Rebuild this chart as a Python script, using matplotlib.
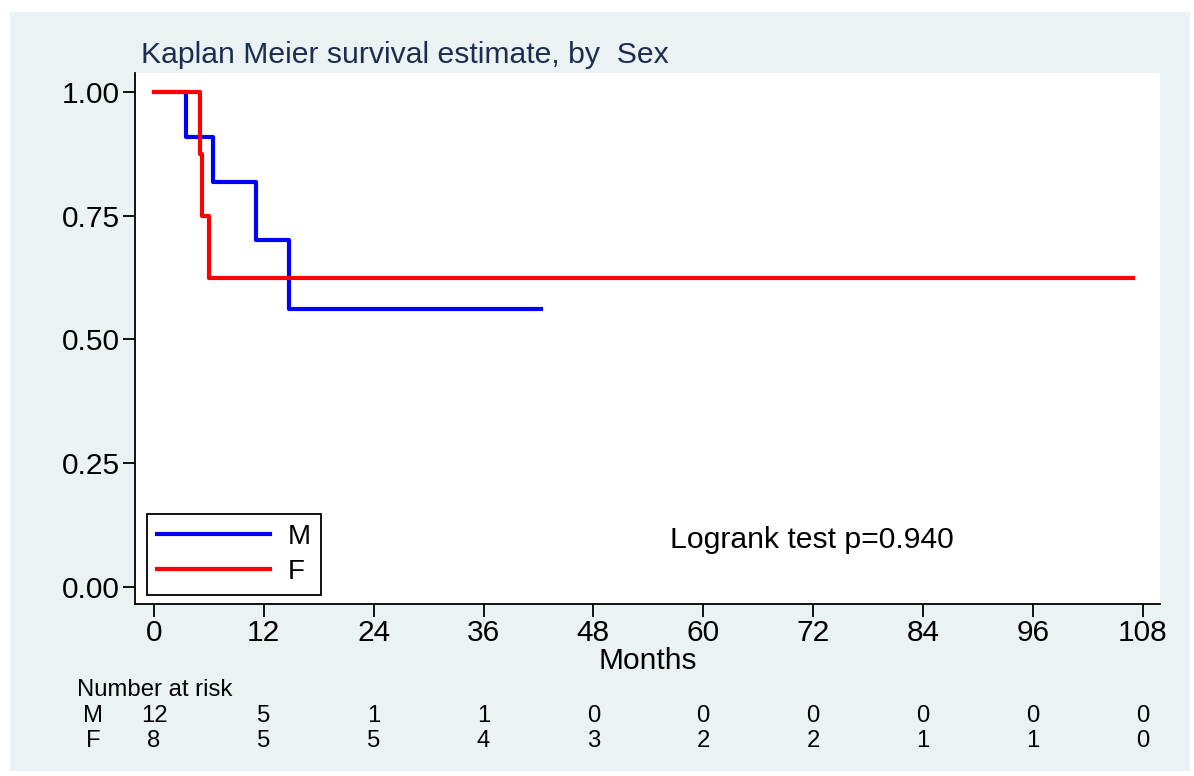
import matplotlib.pyplot as plt
from matplotlib.patches import Rectangle
from matplotlib.lines import Line2D

plt.rcParams['font.family'] = ['Liberation Sans', 'DejaVu Sans']

# Kaplan-Meier step data (months, survival)
m_times = [0, 3.5, 6.4, 11.1, 14.8, 42.3]
m_surv = [1.0, 0.909, 0.818, 0.701, 0.561, 0.561]
f_times = [0, 5.0, 5.3, 6.0, 107.0]
f_surv = [1.0, 0.875, 0.75, 0.625, 0.625]

x_ticks = [0, 12, 24, 36, 48, 60, 72, 84, 96, 108]
y_ticks = [0.0, 0.25, 0.5, 0.75, 1.0]
risk_m = [12, 5, 1, 1, 0, 0, 0, 0, 0, 0]
risk_f = [8, 5, 5, 4, 3, 2, 2, 1, 1, 0]

W, H = 1194, 776
bg = '#eaf2f3'
fig = plt.figure(figsize=(W / 100, H / 100), dpi=100)
fig.patches.append(Rectangle((10 / W, 1 - 771 / H), 1180 / W, 759 / H,
                             transform=fig.transFigure, facecolor=bg,
                             edgecolor='none', zorder=-1))

ax = fig.add_axes([135 / W, 1 - 604 / H, (1160 - 135) / W, (604 - 73) / H])
ax.step(m_times, m_surv, where='post', color='#0000ff', lw=3)
ax.step(f_times, f_surv, where='post', color='#ff0000', lw=3)

ax.set_xlim(-2.07, 109.9)
ax.set_ylim(-0.034, 1.038)
ax.set_xticks(x_ticks)
ax.set_yticks(y_ticks)
ax.set_yticklabels([f'{v:.2f}' for v in y_ticks])
ax.tick_params(labelsize=21.5, length=9, width=1.3, direction='out', pad=2)
for s in ['top', 'right']:
    ax.spines[s].set_visible(False)
for s in ['left', 'bottom']:
    ax.spines[s].set_linewidth(1.3)
ax.set_xlabel('Months', fontsize=21.5, labelpad=0)

fig.text(141 / W, 1 - 55 / H, 'Kaplan Meier survival estimate, by  Sex',
         fontsize=21.7, color='#1e2d4f', va='center', ha='left')

fig.text(670 / W, 1 - 540 / H, 'Logrank test p=0.940', fontsize=21.7,
         va='center', ha='left')

handles = [Line2D([], [], color='#0000ff', lw=3),
           Line2D([], [], color='#ff0000', lw=3)]
leg = ax.legend(handles, ['M', 'F'], loc='lower left',
                bbox_to_anchor=(12 / 1025, 9 / 531), fontsize=20,
                handlelength=4.07, handletextpad=0.65, borderpad=0.36,
                labelspacing=0.33, fancybox=False, framealpha=1,
                edgecolor='black', borderaxespad=0)
leg.get_frame().set_linewidth(1.3)

# number at risk table
fig.text(77 / W, 1 - 690 / H, 'Number at risk', fontsize=17.2, va='center')
row_y = {'M': 716, 'F': 741}
for lab, vals in [('M', risk_m), ('F', risk_f)]:
    fig.text(93 / W, 1 - row_y[lab] / H, lab, fontsize=17.2, va='center', ha='center')
    for xv, n in zip(x_ticks, vals):
        ax.annotate(str(n), xy=(xv, 0), xycoords=('data', 'axes fraction'),
                    xytext=(0, -(row_y[lab] - 604)), textcoords='offset pixels',
                    fontsize=17.2, va='center', ha='center', annotation_clip=False)

fig.savefig('out.png', dpi=100)
